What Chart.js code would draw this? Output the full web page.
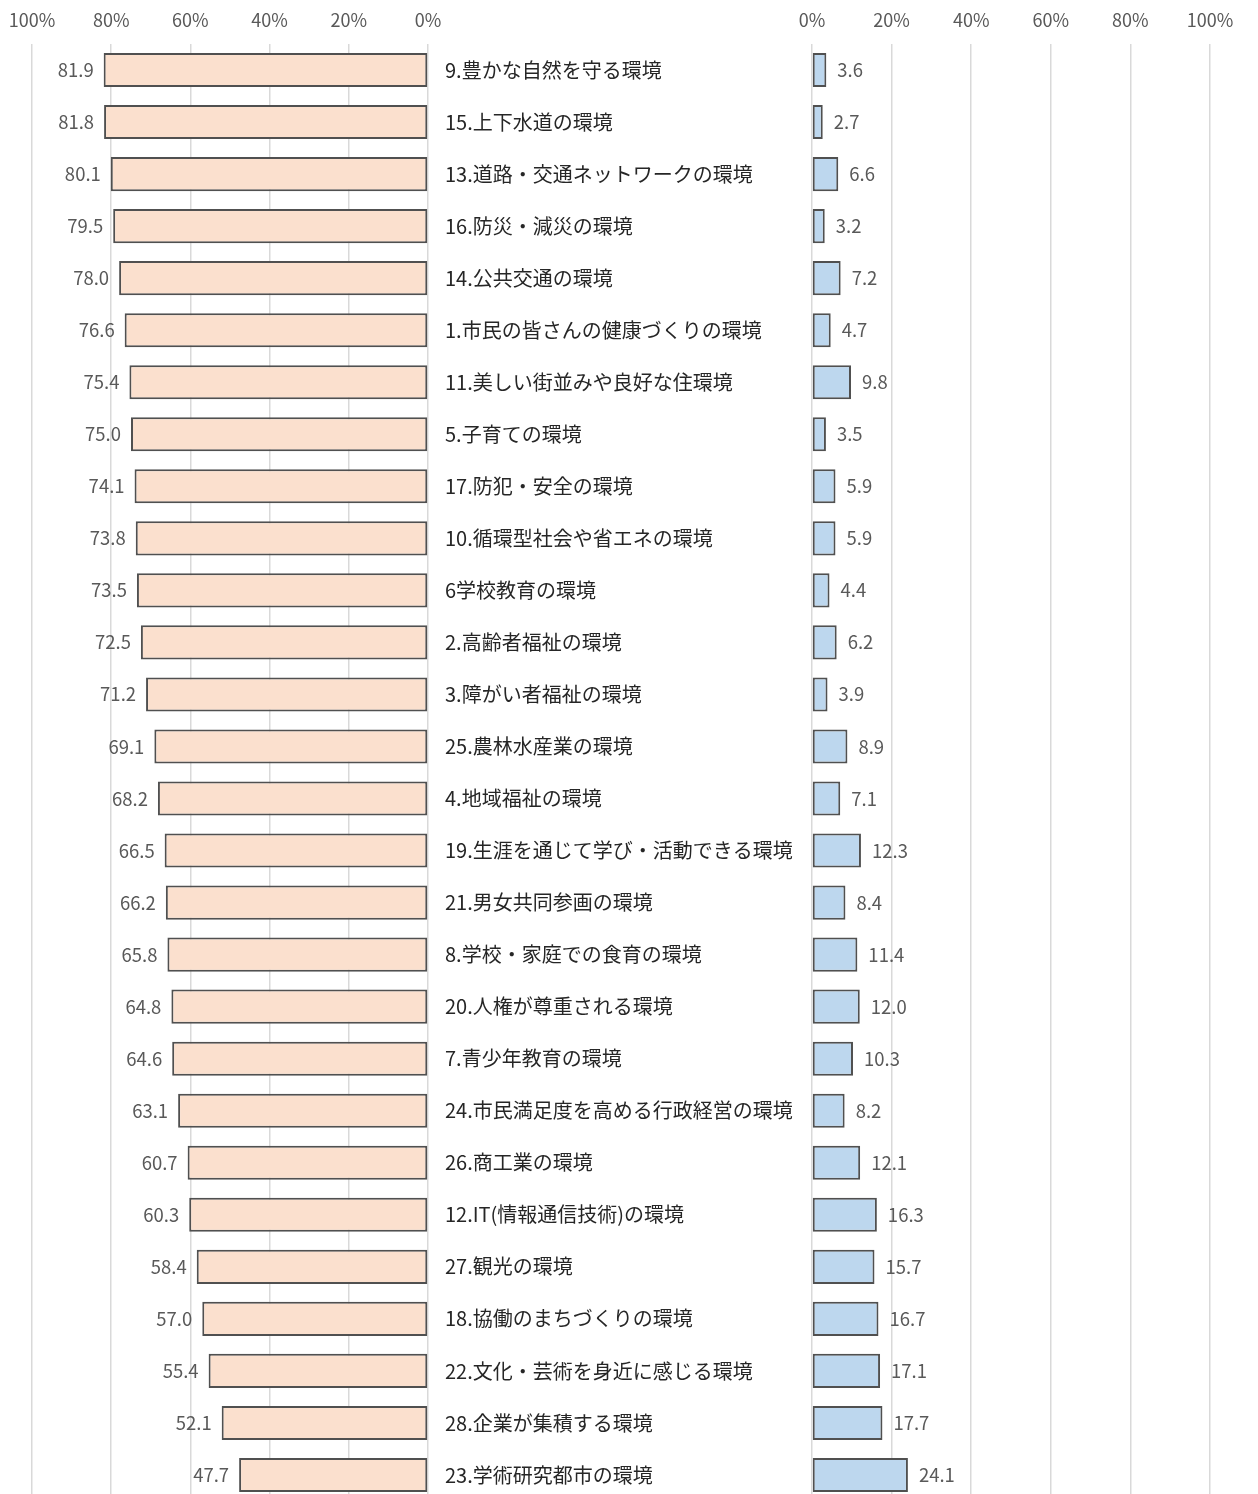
<!DOCTYPE html>
<html lang="ja">
<head>
<meta charset="utf-8">
<title>環境の評価</title>
<script src="https://cdn.jsdelivr.net/npm/chart.js@4/dist/chart.umd.min.js"></script>
<style>
  html, body { margin: 0; padding: 0; background: #fff; overflow: hidden; }
  .wrap { position: relative; width: 1258px; height: 1494px; overflow: hidden; }
  #chart_left { position: absolute; left: 0; top: 0; }
  #chart_right { position: absolute; left: 445px; top: 0; }
</style>
</head>
<body>
<div class="wrap">
  <canvas id="chart_left" width="445" height="1501"></canvas>
  <canvas id="chart_right" width="813" height="1501"></canvas>
</div>
<script>
const labels = [
  "9.豊かな自然を守る環境",
  "15.上下水道の環境",
  "13.道路・交通ネットワークの環境",
  "16.防災・減災の環境",
  "14.公共交通の環境",
  "1.市民の皆さんの健康づくりの環境",
  "11.美しい街並みや良好な住環境",
  "5.子育ての環境",
  "17.防犯・安全の環境",
  "10.循環型社会や省エネの環境",
  "6学校教育の環境",
  "2.高齢者福祉の環境",
  "3.障がい者福祉の環境",
  "25.農林水産業の環境",
  "4.地域福祉の環境",
  "19.生涯を通じて学び・活動できる環境",
  "21.男女共同参画の環境",
  "8.学校・家庭での食育の環境",
  "20.人権が尊重される環境",
  "7.青少年教育の環境",
  "24.市民満足度を高める行政経営の環境",
  "26.商工業の環境",
  "12.IT(情報通信技術)の環境",
  "27.観光の環境",
  "18.協働のまちづくりの環境",
  "22.文化・芸術を身近に感じる環境",
  "28.企業が集積する環境",
  "23.学術研究都市の環境"
];

const leftValues = [81.9, 81.8, 80.1, 79.5, 78.0, 76.6, 75.4, 75.0, 74.1, 73.8, 73.5, 72.5, 71.2, 69.1,
  68.2, 66.5, 66.2, 65.8, 64.8, 64.6, 63.1, 60.7, 60.3, 58.4, 57.0, 55.4, 52.1, 47.7];

const rightValues = [3.6, 2.7, 6.6, 3.2, 7.2, 4.7, 9.8, 3.5, 5.9, 5.9, 4.4, 6.2, 3.9, 8.9,
  7.1, 12.3, 8.4, 11.4, 12.0, 10.3, 8.2, 12.1, 16.3, 15.7, 16.7, 17.1, 17.7, 24.1];

const tickValues = [0, 20, 40, 60, 80, 100];

const FONT = "'Noto Sans CJK JP', 'Noto Sans', sans-serif";
const GREY = "#595959";
const GRID = "#d9d9d9";

// draws the value next to the end of each bar
const valueLabels = {
  id: "valueLabels",
  afterDatasetsDraw(chart, args, opts) {
    const ctx = chart.ctx;
    const meta = chart.getDatasetMeta(0);
    const values = chart.data.datasets[0].data;
    ctx.save();
    ctx.font = "18.5px " + FONT;
    ctx.fillStyle = GREY;
    ctx.textBaseline = "middle";
    ctx.textAlign = opts.side === "left" ? "right" : "left";
    meta.data.forEach(function (bar, i) {
      const x = opts.side === "left" ? bar.x - 10 : bar.x + 11;
      ctx.fillText(values[i].toFixed(1), x, bar.y);
    });
    ctx.restore();
  }
};

function xAxis(reverse) {
  return {
    type: "linear",
    position: "top",
    min: 0,
    max: 100,
    reverse: reverse,
    afterBuildTicks: function (scale) {
      scale.ticks = tickValues.map(function (v) { return { value: v }; });
    },
    afterFit: function (scale) { scale.height = 34; },
    grid: { color: GRID, lineWidth: 1.5, drawTicks: false },
    border: { display: false },
    ticks: {
      padding: 13,
      color: GREY,
      font: { family: FONT, size: 18 },
      callback: function (v) { return v + "%"; }
    }
  };
}

function barDataset(values, fill) {
  return {
    data: values,
    backgroundColor: fill,
    borderColor: "#505050",
    borderWidth: 2,
    borderSkipped: false,
    categoryPercentage: 1,
    barPercentage: 0.655
  };
}

var leftChart = new Chart(document.getElementById("chart_left"), {
  type: "bar",
  data: { labels: labels, datasets: [barDataset(leftValues, "#fbe0ce")] },
  options: {
    indexAxis: "y",
    responsive: false,
    animation: false,
    layout: { padding: { left: 32, right: 17, top: 10, bottom: 0 } },
    plugins: { legend: { display: false }, tooltip: { enabled: false }, valueLabels: { side: "left" } },
    scales: {
      x: xAxis(true),
      y: { display: false }
    }
  },
  plugins: [valueLabels]
});

var rightChart = new Chart(document.getElementById("chart_right"), {
  type: "bar",
  data: { labels: labels, datasets: [barDataset(rightValues, "#bdd7ee")] },
  options: {
    indexAxis: "y",
    responsive: false,
    animation: false,
    layout: { padding: { left: 0, right: 48, top: 10, bottom: 0 } },
    plugins: { legend: { display: false }, tooltip: { enabled: false }, valueLabels: { side: "right" } },
    scales: {
      x: xAxis(false),
      y: {
        position: "left",
        // fixed width, and no extra space under the last label, so rows line up with the left chart
        afterFit: function (scale) {
          scale.width = 367;
          scale.paddingTop = 0;
          scale.paddingBottom = 0;
        },
        grid: { display: false },
        border: { display: false },
        ticks: {
          crossAlign: "far",
          padding: 0,
          color: "#262626",
          font: { family: FONT, size: 20 }
        }
      }
    }
  },
  plugins: [valueLabels]
});
</script>
</body>
</html>
